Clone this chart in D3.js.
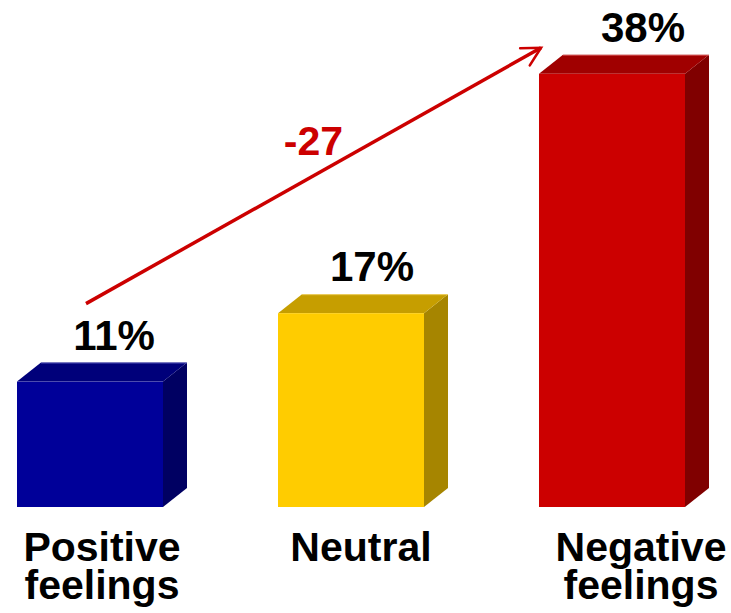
<!DOCTYPE html>
<html>
<head>
<meta charset="utf-8">
<script src="https://cdn.jsdelivr.net/npm/d3@7"></script>
<style>
  html, body { margin: 0; padding: 0; background: #ffffff; }
  svg { display: block; }
  text { font-family: "Liberation Sans", Arial, sans-serif; font-weight: bold; }
</style>
</head>
<body>
<svg id="chart" width="731" height="613"></svg>
<script>
// Share of respondents by feeling
const categories = ["Positive feelings", "Neutral", "Negative feelings"];
const values = [11, 17, 38];
const valueLabels = ["11%", "17%", "38%"];
const changeLabel = "-27";

// Face colours for each bar: front, top, side
const frontColors = ["#000099", "#FFCC00", "#CC0000"];
const topColors = ["#00007A", "#C69E00", "#A00000"];
const sideColors = ["#000062", "#A68500", "#800000"];
const edgeColors = ["#6f6fd0", "#ffe27a", "#f07a7a"];

const svg = d3.select("#chart");

const x = d3.scaleBand()
  .domain(categories)
  .range([17, 685])
  .paddingInner(0.4406)
  .paddingOuter(0);

const y = d3.scaleLinear()
  .domain([0, 40])
  .range([507, 51]);

// Extrusion depth of the 3D boxes
const dx = 24, dy = 19;
const bw = x.bandwidth();

const bars = svg.append("g").selectAll("g")
  .data(categories.map((c, i) => ({ c, v: values[i], i })))
  .join("g");

// side face
bars.append("path")
  .attr("fill", d => sideColors[d.i])
  .attr("d", d => {
    const x1 = x(d.c) + bw, yt = y(d.v), yb = y(0);
    return `M${x1},${yt} L${x1 + dx},${yt - dy} L${x1 + dx},${yb - dy} L${x1},${yb} Z`;
  });

// top face
bars.append("path")
  .attr("fill", d => topColors[d.i])
  .attr("d", d => {
    const x0 = x(d.c), x1 = x0 + bw, yt = y(d.v);
    return `M${x0},${yt} L${x0 + dx},${yt - dy} L${x1 + dx},${yt - dy} L${x1},${yt} Z`;
  });

// front face
bars.append("rect")
  .attr("x", d => x(d.c))
  .attr("y", d => y(d.v))
  .attr("width", bw)
  .attr("height", d => y(0) - y(d.v))
  .attr("fill", d => frontColors[d.i]);

// thin light edge along the top ridge
bars.append("line")
  .attr("x1", d => x(d.c) + dx)
  .attr("x2", d => x(d.c) + bw + dx)
  .attr("y1", d => y(d.v) - dy + 0.5)
  .attr("y2", d => y(d.v) - dy + 0.5)
  .attr("stroke", d => edgeColors[d.i])
  .attr("stroke-width", 1)
  .attr("opacity", 0.6);

// value labels above each bar
const valueOffsets = [24, 21, 31];
svg.append("g").selectAll("text")
  .data(categories.map((c, i) => ({ c, v: values[i], t: valueLabels[i], i })))
  .join("text")
  .attr("x", d => x(d.c) + bw / 2 + valueOffsets[d.i])
  .attr("y", d => y(d.v) - dy - 13)
  .attr("text-anchor", "middle")
  .attr("font-size", 42)
  .attr("fill", "#000000")
  .text(d => d.t);

// category labels below the bars (split onto two lines)
const catOffsets = [12, 10, 29];
const catGroup = svg.append("g");
categories.forEach((c, i) => {
  const words = c.split(" ");
  const t = catGroup.append("text")
    .attr("text-anchor", "middle")
    .attr("font-size", 41)
    .attr("fill", "#000000");
  words.forEach((w, k) => {
    t.append("tspan")
      .attr("x", x(c) + bw / 2 + catOffsets[i])
      .attr("y", 561 + k * 38)
      .text(w);
  });
});

// trend arrow from the first bar up to the last bar
const start = [x(categories[0]) + bw / 2 - 4, y(values[0]) - 78];
const end = [x(categories[2]) + 2, y(values[2]) - dy - 7];

const defs = svg.append("defs");
defs.append("marker")
  .attr("id", "openArrow")
  .attr("viewBox", "0 0 10 10")
  .attr("refX", 8.5)
  .attr("refY", 5)
  .attr("markerWidth", 7)
  .attr("markerHeight", 7)
  .attr("markerUnits", "strokeWidth")
  .attr("orient", "auto")
  .append("path")
  .attr("d", "M1,1 L8.5,5 L1,9")
  .attr("fill", "none")
  .attr("stroke", "#CC0000")
  .attr("stroke-width", 1.05)
  .attr("stroke-linecap", "round");

svg.append("line")
  .attr("x1", start[0]).attr("y1", start[1])
  .attr("x2", end[0]).attr("y2", end[1])
  .attr("stroke", "#CC0000")
  .attr("stroke-width", 3.5)
  .attr("marker-end", "url(#openArrow)");

const mid = [(start[0] + end[0]) / 2, (start[1] + end[1]) / 2];
svg.append("text")
  .attr("x", mid[0])
  .attr("y", mid[1] - 21)
  .attr("text-anchor", "middle")
  .attr("font-size", 41)
  .attr("fill", "#CC0000")
  .text(changeLabel);
</script>
</body>
</html>
